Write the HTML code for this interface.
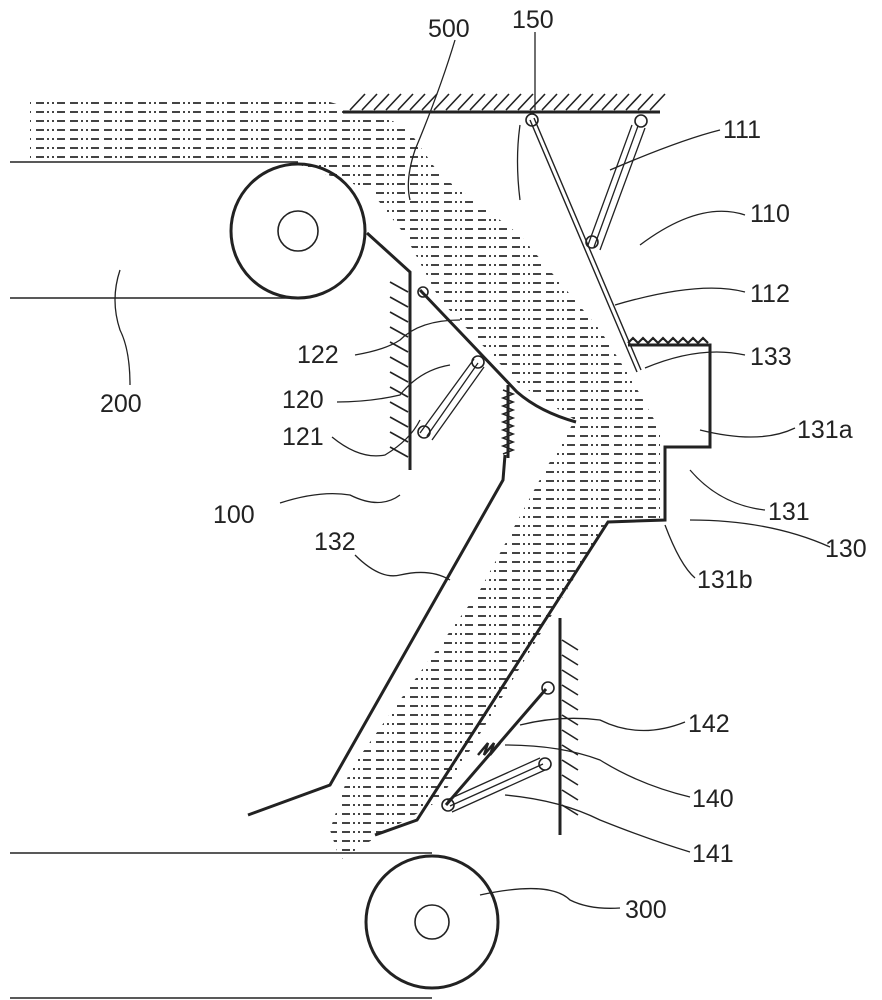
<!DOCTYPE html>
<html><head><meta charset="utf-8"><style>
html,body{margin:0;padding:0;background:#fff;}
svg{display:block;}
text{font-family:"Liberation Sans",sans-serif;font-size:25px;fill:#222;}
</style></head><body>
<svg width="882" height="1000" viewBox="0 0 882 1000" xmlns="http://www.w3.org/2000/svg">
<defs>
<pattern id="mat" width="34" height="9" patternUnits="userSpaceOnUse">
<rect x="2" y="3" width="8" height="2" fill="#444"/>
<rect x="13" y="3" width="2" height="2" fill="#444"/>
<rect x="18" y="3" width="2" height="2" fill="#444"/>
<rect x="23" y="3" width="8" height="2" fill="#444"/>
</pattern>
</defs>
<g fill="none" stroke="#222" stroke-width="1.6">
<!-- material -->
<path d="M30,100 L330,102 L405,125 L440,175 L520,235 L600,330 L632,380 L660,430 L660,520 L608,522 L440,800 L380,835 L340,860 L330,830 L350,770 L400,700 L480,590 L545,470 L575,420 L520,385 L440,300 L405,235 L370,190 L300,165 L30,165 Z" fill="url(#mat)" stroke="none"/>
<!-- ceiling -->
<line x1="343" y1="112" x2="660" y2="112" stroke-width="3"/>
<path d="M350,110 l15,-16 M362,110 l15,-16 M374,110 l15,-16 M386,110 l15,-16 M398,110 l15,-16 M410,110 l15,-16 M422,110 l15,-16 M434,110 l15,-16 M446,110 l15,-16 M458,110 l15,-16 M470,110 l15,-16 M482,110 l15,-16 M494,110 l15,-16 M506,110 l15,-16 M518,110 l15,-16 M530,110 l15,-16 M542,110 l15,-16 M554,110 l15,-16 M566,110 l15,-16 M578,110 l15,-16 M590,110 l15,-16 M602,110 l15,-16 M614,110 l15,-16 M626,110 l15,-16 M638,110 l15,-16 M650,110 l15,-16"/>
<!-- upper conveyor -->
<line x1="10" y1="162" x2="298" y2="162"/>
<line x1="10" y1="298" x2="298" y2="298"/>
<circle cx="298" cy="231" r="67" stroke-width="3"/>
<circle cx="298" cy="231" r="20"/>
<!-- plate 120 -->
<path d="M367,233 L410,272 L410,470" stroke-width="3"/>
<path d="M408,292 l-18,-10 M408,307 l-18,-10 M408,322 l-18,-10 M408,337 l-18,-10 M408,352 l-18,-10 M408,367 l-18,-10 M408,382 l-18,-10 M408,397 l-18,-10 M408,412 l-18,-10 M408,427 l-18,-10 M408,442 l-18,-10 M408,457 l-18,-10"/>
<!-- plate 122 -->
<path d="M420,290 L517,392 Q540,412 576,422" stroke-width="3"/>
<circle cx="423" cy="292" r="5"/>
<!-- cylinder 121 -->
<path d="M420,433 L474,359 M432,440 L484,367 M427,436 L478,363" stroke-width="1.3"/>
<circle cx="478" cy="362" r="6"/><circle cx="424" cy="432" r="6"/>
<!-- spring -->
<line x1="508" y1="385" x2="508" y2="458" stroke-width="3"/>
<path d="M503,390 l10,4 l-10,4 l10,4 l-10,4 l10,4 l-10,4 l10,4 l-10,4 l10,4 l-10,4 l10,4 l-10,4 l10,4 l-10,4 l10,4 l-10,4"/>
<!-- plate 112 -->
<path d="M530,120 L637,372 M534,118 L641,370" stroke-width="1.4"/>
<circle cx="532" cy="120" r="6"/>
<!-- cylinder 111 -->
<path d="M588,245 L632,125 M600,250 L645,128 M594,247 L638,126" stroke-width="1.3"/>
<circle cx="641" cy="121" r="6"/><circle cx="592" cy="242" r="6"/>
<!-- box 131 -->
<path d="M628,345 L710,345 L710,447 L665,447 L665,520 L608,522 L417,820 L375,835" stroke-width="3"/>
<path d="M628,343 l5,-5 l5,5 l5,-5 l5,5 l5,-5 l5,5 l5,-5 l5,5 l5,-5 l5,5 l5,-5 l5,5 l5,-5 l5,5 l5,-5 l5,5" stroke-width="2.2"/>
<!-- plate 132 -->
<path d="M505,455 L503,480 L330,785 L248,815" stroke-width="3"/>
<!-- wall 140 -->
<line x1="560" y1="618" x2="560" y2="835" stroke-width="3"/>
<path d="M562,640 l16,10 M562,655 l16,10 M562,670 l16,10 M562,685 l16,10 M562,700 l16,10 M562,715 l16,10 M562,730 l16,10 M562,745 l16,10 M562,760 l16,10 M562,775 l16,10 M562,790 l16,10 M562,805 l16,10"/>
<!-- plate 142 -->
<path d="M446,805 L546,689" stroke-width="3"/>
<circle cx="548" cy="688" r="6"/>
<path d="M478,755 l10,-12 l-4,12 l10,-12 l-4,12 l10,-12" stroke-width="2.5"/>
<!-- cylinder 141 -->
<path d="M447,800 L540,758 M452,812 L545,770 M450,806 L543,764" stroke-width="1.3"/>
<circle cx="448" cy="805" r="6"/><circle cx="545" cy="764" r="6"/>
<!-- lower conveyor -->
<line x1="10" y1="853" x2="432" y2="853"/>
<line x1="10" y1="998" x2="432" y2="998"/>
<circle cx="432" cy="922" r="66" stroke-width="3"/>
<circle cx="432" cy="922" r="17"/>
<!-- leaders -->
<g stroke-width="1.3">
<path d="M455,40 Q440,90 415,150 Q405,180 410,200"/>
<path d="M535,32 L535,110 M520,125 Q515,160 520,200"/>
<path d="M720,130 Q680,140 610,170"/>
<path d="M745,215 Q700,200 640,245"/>
<path d="M745,292 Q700,280 615,305"/>
<path d="M745,355 Q700,345 645,368"/>
<path d="M795,428 Q760,445 700,430"/>
<path d="M765,510 Q720,505 690,470"/>
<path d="M830,547 Q770,520 690,520"/>
<path d="M695,578 Q680,565 665,525"/>
<path d="M355,355 Q385,350 400,340 Q420,320 460,320"/>
<path d="M337,402 Q370,402 400,395 Q420,370 450,365"/>
<path d="M332,437 Q360,460 385,455 Q410,440 420,420"/>
<path d="M130,385 Q130,350 120,330 Q110,300 120,270"/>
<path d="M280,503 Q320,490 350,495 Q380,510 400,495"/>
<path d="M355,555 Q380,580 400,575 Q430,568 450,580"/>
<path d="M685,722 Q640,740 600,720 Q560,715 520,725"/>
<path d="M690,797 Q640,785 600,760 Q560,745 505,745"/>
<path d="M690,852 Q650,840 600,820 Q560,800 505,795"/>
<path d="M620,908 Q590,910 570,900 Q550,880 480,895"/>
</g>
</g>
<text x="428" y="37">500</text>
<text x="512" y="28">150</text>
<text x="723" y="138">111</text>
<text x="750" y="222">110</text>
<text x="750" y="302">112</text>
<text x="750" y="365">133</text>
<text x="797" y="438">131a</text>
<text x="768" y="520">131</text>
<text x="825" y="557">130</text>
<text x="697" y="588">131b</text>
<text x="297" y="363">122</text>
<text x="282" y="408">120</text>
<text x="282" y="445">121</text>
<text x="100" y="412">200</text>
<text x="213" y="523">100</text>
<text x="314" y="550">132</text>
<text x="688" y="732">142</text>
<text x="692" y="807">140</text>
<text x="692" y="862">141</text>
<text x="625" y="918">300</text>
</svg>
</body></html>
